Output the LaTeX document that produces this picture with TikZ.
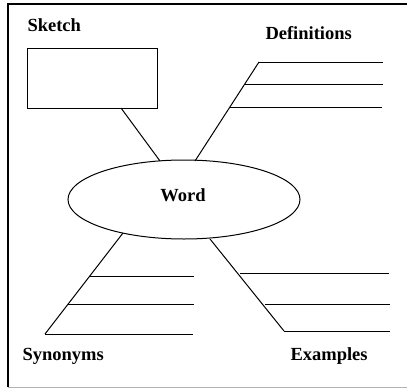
\documentclass[tikz,border=0pt]{standalone}
\usepackage{fontspec}
\setmainfont{Liberation Serif}
\usetikzlibrary{shapes.geometric}
\begin{document}
\begin{tikzpicture}[x=1pt,y=-1pt,line width=1pt,
  lbl/.style={font=\fontsize{18.5}{20}\selectfont\bfseries, inner sep=0pt, anchor=base west},
  rule/.style={line width=1pt}]
\useasboundingbox (0,0) rectangle (407,388);
% frame
\draw[line width=1.3pt] (407,4) -- (8,4) -- (8,387);
\draw[gray!60,line width=1pt] (8,387) -- (407,387);
% labels
\node[lbl] (sk) at (27,31) {Sketch};
\node[lbl] (df) at (265,39) {Definitions};
\node[lbl] (sy) at (22,360) {Synonyms};
\node[lbl] (ex) at (290,360) {Examples};
% sketch box
\node[draw, rule, minimum width=130pt, minimum height=60pt, anchor=north west, inner sep=0pt] (box) at (27,48) {};
% ellipse
\node[draw, rule, ellipse, minimum width=232pt, minimum height=79pt, inner sep=0pt] (word) at (184,199.5) {};
\node[lbl, anchor=base] (wt) at (183,201) {Word};
% connector sketch
\coordinate (b1) at (121,108);
\coordinate (b2) at (160,161);
\draw[rule] (b1) -- (b2);
% definitions
\coordinate (d1) at (259,62);
\coordinate (d2) at (245,84);
\coordinate (d3) at (230,107);
\coordinate (de) at (195,161);
\coordinate (d1e) at (383,62);
\coordinate (d2e) at (383,84);
\coordinate (d3e) at (382,107);
\draw[rule] (d1) -- (de);
\draw[rule] (d1) -- (d1e);
\draw[rule] (d2) -- (d2e);
\draw[rule] (d3) -- (d3e);
% synonyms
\coordinate (s0) at (123,233);
\coordinate (s1) at (90,276);
\coordinate (s2) at (68,304);
\coordinate (s3) at (45,334);
\coordinate (s1e) at (194,276);
\coordinate (s2e) at (194,304);
\coordinate (s3e) at (193,334);
\draw[rule] (s0) -- (s3);
\draw[rule] (s1) -- (s1e);
\draw[rule] (s2) -- (s2e);
\draw[rule] (s3) -- (s3e);
% examples
\coordinate (e0) at (210,239);
\coordinate (e1) at (240,273);
\coordinate (e2) at (265,304);
\coordinate (e3) at (284,331);
\coordinate (e1e) at (389,273);
\coordinate (e2e) at (390,304);
\coordinate (e3e) at (390,331);
\draw[rule] (e0) -- (e3);
\draw[rule] (e1) -- (e1e);
\draw[rule] (e2) -- (e2e);
\draw[rule] (e3) -- (e3e);
\end{tikzpicture}
\end{document}
